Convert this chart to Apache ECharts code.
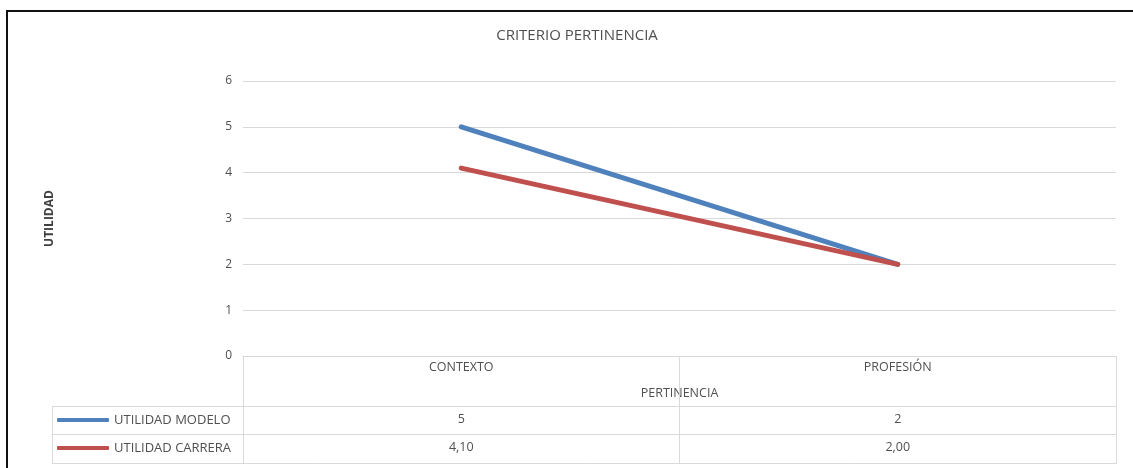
<!DOCTYPE html>
<html>
<head>
<meta charset="utf-8">
<script src="https://cdn.jsdelivr.net/npm/echarts@6/dist/echarts.min.js"></script>
<style>
html,body{margin:0;padding:0;background:#fff;}
#c{width:1133px;height:468px;}
</style>
</head>
<body>
<div id="c"></div>
<script>
var titleText = 'CRITERIO PERTINENCIA';
var xAxisName = 'PERTINENCIA';
var yAxisName = 'UTILIDAD';
var categories = ['CONTEXTO', 'PROFESIÓN'];
var seriesNames = ['UTILIDAD MODELO', 'UTILIDAD CARRERA'];
var utilidadModelo = [5, 2];
var utilidadCarrera = [4.10, 2.00];
var yTicks = [0, 1, 2, 3, 4, 5, 6];

var FONT = '"Open Sans", "Liberation Sans", sans-serif';
var GRID_COLOR = '#d9d9d9';
var TEXT_COLOR = '#505050';

function fmtModelo(v) { return String(v).replace('.', ','); }
function fmtCarrera(v) { return v.toFixed(2).replace('.', ','); }

var chart = echarts.init(document.getElementById('c'), null, {renderer: 'canvas'});

var option = {
  animation: false,
  backgroundColor: '#ffffff',
  color: ['#4F81BD', '#C0504D'],
  grid: {left: 243, right: 17, top: 81, bottom: 112, containLabel: false},
  legend: {
    orient: 'vertical',
    left: 57, top: 413, padding: 0,
    icon: 'roundRect',
    itemWidth: 52, itemHeight: 4,
    itemGap: 14,
    textStyle: {fontFamily: FONT, fontSize: 13, color: TEXT_COLOR, lineHeight: 14},
    data: seriesNames
  },
  xAxis: [
    {
      type: 'category', data: categories, position: 'bottom', boundaryGap: true,
      axisLine: {show: true, lineStyle: {color: GRID_COLOR, width: 1}},
      axisTick: {show: true, length: 107, lineStyle: {color: GRID_COLOR, width: 1}},
      axisLabel: {margin: 5, fontFamily: FONT, fontSize: 12.5, color: TEXT_COLOR},
      name: xAxisName, nameLocation: 'middle', nameGap: 31,
      nameTextStyle: {fontFamily: FONT, fontSize: 12.5, color: TEXT_COLOR}
    },
    {
      type: 'category', data: categories, position: 'bottom', boundaryGap: true,
      axisLine: {show: false}, axisTick: {show: false},
      axisLabel: {margin: 57, fontFamily: FONT, fontSize: 12.5, color: TEXT_COLOR,
        formatter: function (v, i) { return fmtModelo(utilidadModelo[i]); }}
    },
    {
      type: 'category', data: categories, position: 'bottom', boundaryGap: true,
      axisLine: {show: false}, axisTick: {show: false},
      axisLabel: {margin: 85, fontFamily: FONT, fontSize: 12.5, color: TEXT_COLOR,
        formatter: function (v, i) { return fmtCarrera(utilidadCarrera[i]); }}
    }
  ],
  yAxis: {
    type: 'value', min: yTicks[0], max: yTicks[yTicks.length - 1], interval: 1,
    axisLine: {show: false}, axisTick: {show: false},
    splitLine: {lineStyle: {color: GRID_COLOR, width: 1}},
    axisLabel: {margin: 11, fontFamily: FONT, fontSize: 12, color: TEXT_COLOR},
    name: yAxisName, nameLocation: 'middle', nameGap: 187, nameRotate: 90,
    nameTextStyle: {fontFamily: FONT, fontSize: 12, fontWeight: 'bold', color: '#404040'}
  },
  series: [
    {name: seriesNames[0], type: 'line', data: utilidadModelo, symbol: 'none',
     lineStyle: {width: 5, cap: 'round'}},
    {name: seriesNames[1], type: 'line', data: utilidadCarrera, symbol: 'none',
     lineStyle: {width: 5, cap: 'round'}}
  ],
  graphic: [
    {type: 'rect', shape: {x: 7, y: 11, width: 1140, height: 470}, silent: true,
     style: {fill: 'none', stroke: '#111', lineWidth: 2}},
    {type: 'text', x: 577, y: 28, silent: true,
     style: {text: titleText, fontFamily: FONT, fontSize: 15, fill: TEXT_COLOR, textAlign: 'center'}},
    {type: 'line', shape: {x1: 52, y1: 406.5, x2: 1117, y2: 406.5}, silent: true, style: {stroke: GRID_COLOR, lineWidth: 1}},
    {type: 'line', shape: {x1: 52, y1: 434.5, x2: 1117, y2: 434.5}, silent: true, style: {stroke: GRID_COLOR, lineWidth: 1}},
    {type: 'line', shape: {x1: 52, y1: 463.5, x2: 1117, y2: 463.5}, silent: true, style: {stroke: GRID_COLOR, lineWidth: 1}},
    {type: 'line', shape: {x1: 52.5, y1: 406, x2: 52.5, y2: 464}, silent: true, style: {stroke: GRID_COLOR, lineWidth: 1}}
  ]
};
chart.setOption(option);
</script>
</body>
</html>
